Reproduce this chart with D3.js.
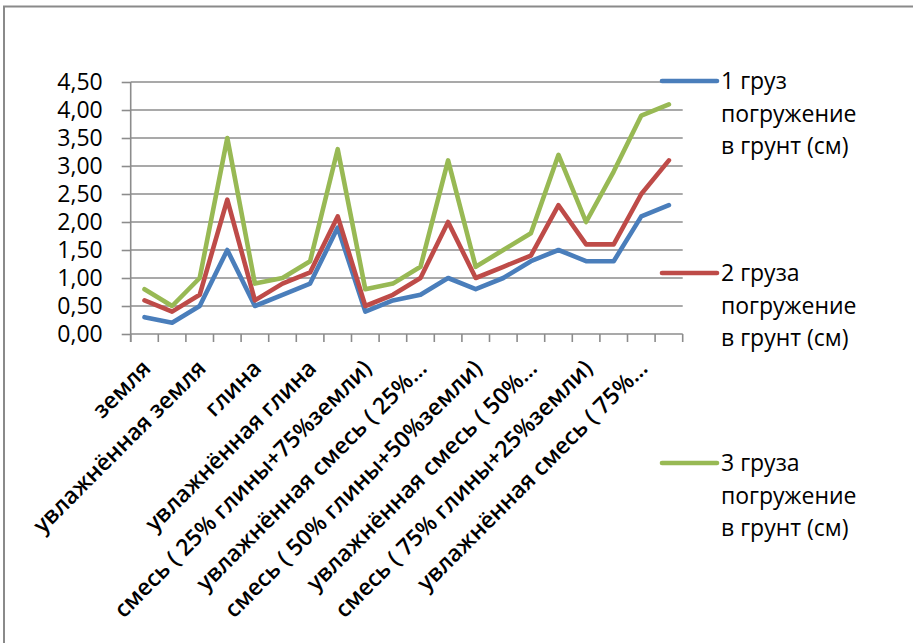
<!DOCTYPE html>
<html>
<head>
<meta charset="utf-8">
<script src="https://cdn.jsdelivr.net/npm/d3@7"></script>
<style>
  html, body { margin: 0; padding: 0; background: #fff; }
  svg { display: block; font-family: "Open Sans", sans-serif; }
</style>
</head>
<body>
<svg id="chart" width="913" height="643"></svg>
<script>
// Category labels shown under the axis (every second category carries a label)
const tickLabels = [
  "земля",
  "увлажнённая земля",
  "глина",
  "увлажнённая глина",
  "смесь ( 25% глины+75%земли)",
  "увлажнённая смесь ( 25%…",
  "смесь ( 50% глины+50%земли)",
  "увлажнённая смесь ( 50%…",
  "смесь ( 75% глины+25%земли)",
  "увлажнённая смесь ( 75%…"
];

// Sinking depth into the soil, cm
const load1 = [0.3, 0.2, 0.5, 1.5, 0.5, 0.7, 0.9, 1.9, 0.4, 0.6, 0.7, 1.0, 0.8, 1.0, 1.3, 1.5, 1.3, 1.3, 2.1, 2.3];
const load2 = [0.6, 0.4, 0.7, 2.4, 0.6, 0.9, 1.1, 2.1, 0.5, 0.7, 1.0, 2.0, 1.0, 1.2, 1.4, 2.3, 1.6, 1.6, 2.5, 3.1];
const load3 = [0.8, 0.5, 1.0, 3.5, 0.9, 1.0, 1.3, 3.3, 0.8, 0.9, 1.2, 3.1, 1.2, 1.5, 1.8, 3.2, 2.0, 2.9, 3.9, 4.1];

const seriesNames = [
  ["1 груз", "погружение", "в грунт (см)"],
  ["2 груза", "погружение", "в грунт (см)"],
  ["3 груза", "погружение", "в грунт (см)"]
];
const seriesColors = ["#4a7ebb", "#be4b48", "#98b954"];
const yTicks = [0, 0.5, 1, 1.5, 2, 2.5, 3, 3.5, 4, 4.5];

const series = [load1, load2, load3];

const svg = d3.select("#chart");
const plot = { left: 130.7, right: 682.7, top: 82, bottom: 334 };
const fontSize = 23;

// Outer frame of the chart area
svg.append("rect")
  .attr("x", 4).attr("y", 6.5)
  .attr("width", 920).attr("height", 650)
  .attr("fill", "#fff")
  .attr("stroke", "#8a8a8a").attr("stroke-width", 2);

const x = d3.scaleBand()
  .domain(d3.range(load1.length))
  .range([plot.left, plot.right])
  .paddingInner(0).paddingOuter(0);

const y = d3.scaleLinear()
  .domain([0, 4.5])
  .range([plot.bottom, plot.top]);

const fmt = v => d3.format(".2f")(v).replace(".", ",");

// Horizontal gridlines
svg.append("g")
  .selectAll("line")
  .data(yTicks)
  .join("line")
  .attr("x1", plot.left).attr("x2", plot.right)
  .attr("y1", d => y(d)).attr("y2", d => y(d))
  .attr("stroke", "#8c8c8c").attr("stroke-width", 1.6);

// Y axis
const yAxis = d3.axisLeft(y).tickValues(yTicks).tickFormat(fmt).tickSize(9).tickPadding(19);
const gy = svg.append("g").attr("transform", `translate(${plot.left},0)`).call(yAxis);
gy.select(".domain").remove();
gy.selectAll(".tick line").attr("stroke", "#8c8c8c").attr("stroke-width", 1.6);
gy.selectAll(".tick text")
  .attr("font-family", "Open Sans, sans-serif")
  .attr("font-size", fontSize).attr("fill", "#000");
svg.append("line")
  .attr("x1", plot.left).attr("x2", plot.left)
  .attr("y1", plot.top).attr("y2", plot.bottom + 8)
  .attr("stroke", "#8c8c8c").attr("stroke-width", 1.6);

// X axis: boundary tick marks between categories
const bounds = d3.range(load1.length + 1).map(i => plot.left + i * x.bandwidth());
svg.append("g")
  .selectAll("line")
  .data(bounds)
  .join("line")
  .attr("x1", d => d).attr("x2", d => d)
  .attr("y1", plot.bottom).attr("y2", plot.bottom + 8)
  .attr("stroke", "#8c8c8c").attr("stroke-width", 1.6);

// Rotated category labels
svg.append("g")
  .selectAll("text")
  .data(tickLabels)
  .join("text")
  .attr("transform", (d, i) => {
    const cx = x(i * 2) + x.bandwidth() / 2;
    return `translate(${cx + 2},${plot.bottom + 30}) rotate(-45)`;
  })
  .attr("text-anchor", "end")
  .attr("dy", "0.35em")
  .attr("font-size", fontSize)
  .attr("font-weight", 600)
  .attr("fill", "#000")
  .text(d => d);

// Series lines
const line = d3.line()
  .x((d, i) => x(i) + x.bandwidth() / 2)
  .y(d => y(d));

svg.append("g")
  .selectAll("path")
  .data(series)
  .join("path")
  .attr("d", d => line(d))
  .attr("fill", "none")
  .attr("stroke", (d, i) => seriesColors[i])
  .attr("stroke-width", 4.6)
  .attr("stroke-linejoin", "round")
  .attr("stroke-linecap", "round");

// Legend
const legendY = [81, 273, 463];
const lg = svg.append("g");
seriesNames.forEach((lines, i) => {
  lg.append("line")
    .attr("x1", 662).attr("x2", 717)
    .attr("y1", legendY[i]).attr("y2", legendY[i])
    .attr("stroke", seriesColors[i]).attr("stroke-width", 4.6)
    .attr("stroke-linecap", "round");
  const t = lg.append("text")
    .attr("x", 721).attr("y", legendY[i] + 8)
    .attr("font-size", fontSize).attr("fill", "#000");
  lines.forEach((s, k) => {
    t.append("tspan").attr("x", 721).attr("dy", k === 0 ? 0 : 32.5).text(s);
  });
});
</script>
</body>
</html>
